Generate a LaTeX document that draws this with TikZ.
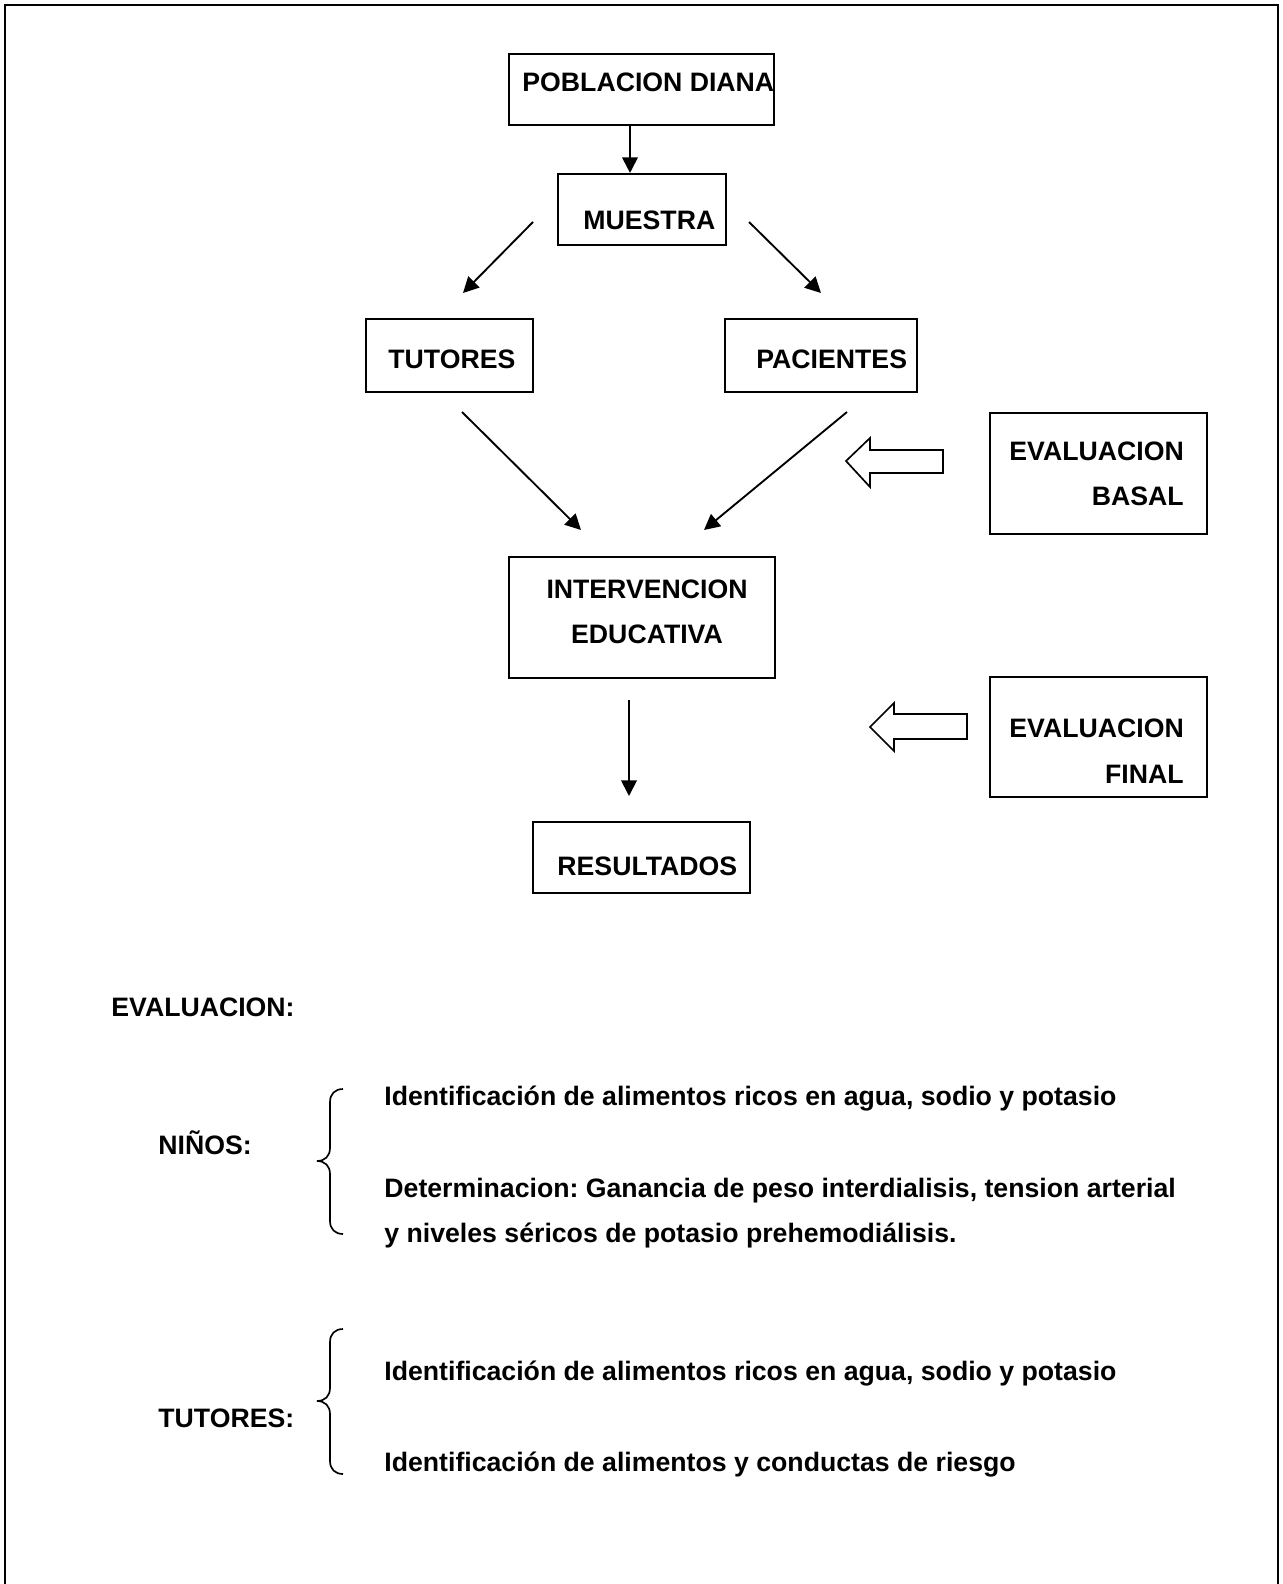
\documentclass[tikz,border=0pt]{standalone}
\usepackage{fontspec}
\setmainfont{Liberation Sans}
\usetikzlibrary{arrows.meta,fit}
\frenchspacing

\tikzset{
  box/.style={draw, line width=1pt, inner sep=0pt},
  lbl/.style={font=\fontsize{12.8}{15}\selectfont\bfseries, inner sep=0pt, anchor=base west},
  arr/.style={line width=0.9pt, -{Triangle[length=7.5pt,width=7.5pt]}},
  hollow/.style={draw, line width=0.8pt, fill=white, line join=miter},
  curl/.style={line width=0.8pt},
}

\begin{document}
\begin{tikzpicture}[x=0.48pt, y=-0.48pt]
\useasboundingbox (0,0) rectangle (1282,1584);

% Page frame (open at the bottom)
\draw[line width=1.2pt] (5,1590) -- (5,5) -- (1278,5) -- (1278,1590);

% Boxes of the flow chart
\node[box, fit={(509,54) (774,125)}] (poblacion) {};
\node[box, fit={(558,174) (726,245)}] (muestra) {};
\node[box, fit={(366,319) (533,392)}] (tutores) {};
\node[box, fit={(725,319) (917,392)}] (pacientes) {};
\node[box, fit={(509,557) (775,678)}] (intervencion) {};
\node[box, fit={(533,822) (750,893)}] (resultados) {};
\node[box, fit={(990,413) (1207,534)}] (basal) {};
\node[box, fit={(990,677) (1207,797)}] (final) {};

% Free ends of the arrows
\coordinate (d1) at (630,0);
\coordinate (m1) at (533,222);
\coordinate (t1) at (463,293);
\coordinate (m2) at (749,222);
\coordinate (p1) at (821,293);
\coordinate (t2) at (462,412);
\coordinate (i1) at (581,530);
\coordinate (p2) at (847,412);
\coordinate (i2) at (704,530);
\coordinate (i3) at (629,700);
\coordinate (r1) at (629,796);

% Arrows
\draw[arr] (poblacion.south -| d1) -- (muestra.north -| d1);
\draw[arr] (m1) -- (t1);
\draw[arr] (m2) -- (p1);
\draw[arr] (t2) -- (i1);
\draw[arr] (p2) -- (i2);
\draw[arr] (i3) -- (r1);

% Hollow block arrows from the evaluations
\draw[hollow] (846,461) -- (870,438) -- (870,450) -- (943,450) -- (943,473)
  -- (870,473) -- (870,487) -- cycle;
\draw[hollow] (870,727) -- (894,703) -- (894,714) -- (967,714) -- (967,739)
  -- (894,739) -- (894,751) -- cycle;

% Labels in the boxes
\node[lbl] (lpoblacion) at (522,92) {POBLACION DIANA};
\node[lbl] (lmuestra) at (583,230) {MUESTRA};
\node[lbl] (ltutores) at (388,369) {TUTORES};
\node[lbl] (lpacientes) at (756,369) {PACIENTES};
\node[lbl, anchor=base] (linterv) at (647,598) {INTERVENCION};
\node[lbl, anchor=base] (leduc) at (647,643) {EDUCATIVA};
\node[lbl] (lresult) at (557,875) {RESULTADOS};
\node[lbl] (lbasal1) at (1009,460) {EVALUACION};
\node[lbl, anchor=base east] (lbasal2) at (1184,505) {BASAL};
\node[lbl] (lfinal1) at (1009,737) {EVALUACION};
\node[lbl, anchor=base east] (lfinal2) at (1184,783) {FINAL};

% Evaluation list
\node[lbl] (leval) at (111,1016) {EVALUACION:};
\node[lbl] (lninos) at (158,1154) {NIÑOS:};
\node[lbl] (ln1) at (384,1105) {Identificación de alimentos ricos en agua, sodio y potasio};
\node[lbl] (ln2) at (384,1197) {Determinacion: Ganancia de peso interdialisis, tension arterial};
\node[lbl] (ln3) at (384,1242) {y niveles séricos de potasio prehemodiálisis.};
\node[lbl] (ltut) at (158,1427) {TUTORES:};
\node[lbl] (lt1) at (384,1380) {Identificación de alimentos ricos en agua, sodio y potasio};
\node[lbl] (lt2) at (384,1471) {Identificación de alimentos y conductas de riesgo};

% Curly braces
\draw[curl] (343,1089) .. controls (335,1089) and (330,1094) .. (330,1102) -- (330,1148)
  .. controls (330,1156) and (325,1161) .. (317,1161)
  .. controls (325,1161) and (330,1166) .. (330,1174) -- (330,1221)
  .. controls (330,1229) and (335,1234) .. (343,1234);
\draw[curl] (343,1329) .. controls (335,1329) and (330,1334) .. (330,1342) -- (330,1388)
  .. controls (330,1396) and (325,1401) .. (317,1401)
  .. controls (325,1401) and (330,1406) .. (330,1414) -- (330,1461)
  .. controls (330,1469) and (335,1474) .. (343,1474);

\end{tikzpicture}
\end{document}
